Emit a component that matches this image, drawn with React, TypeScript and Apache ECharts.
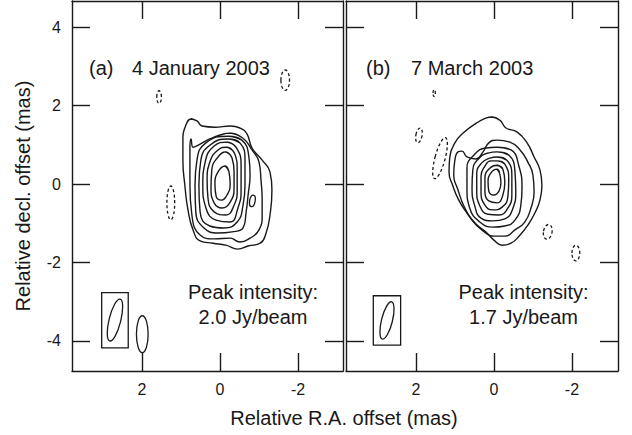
import React, { useEffect, useRef } from 'react';
import * as echarts from 'echarts';

// ---- tick values ----
const xTicks = [-2, 0, 2];
const yTicks = [-4, -2, 0, 2, 4];

// ---- text ----
const panelTags = ['(a)', '(b)'];
const panelDates = ['4 January 2003', '7 March 2003'];
const peakTitle = 'Peak intensity:';
const peakValues = ['2.0 Jy/beam', '1.7 Jy/beam'];
const xName = 'Relative R.A. offset (mas)';
const yName = 'Relative decl. offset (mas)';

// ---- panel (a) contours, [RA offset, Dec offset] in mas ----
const contourA1 = [[0.74,1.66],[0.59,1.61],[0.46,1.48],[0.13,1.45],[-0.26,1.48],[-0.51,1.43],[-0.69,1.28],[-0.82,0.92],[-1.08,0.61],[-1.28,0.31],[-1.33,-0.15],[-1.28,-0.79],[-1.18,-1.25],[-1.03,-1.51],[-0.72,-1.58],[-0.46,-1.66],[-0.15,-1.56],[0.18,-1.51],[0.51,-1.45],[0.69,-1.17],[0.82,-0.66],[0.90,-0.03],[0.95,0.61],[0.95,1.12],[0.87,1.51]];
const contourA2 = [[-0.26,1.30],[-0.59,1.17],[-0.82,0.87],[-1.00,0.56],[-1.05,0.10],[-1.08,-0.41],[-1.08,-0.79],[-1.00,-1.17],[-0.77,-1.38],[-0.51,-1.48],[-0.26,-1.38],[0.15,-1.40],[0.51,-1.30],[0.72,-0.79],[0.77,-0.03],[0.77,0.61],[0.77,0.92],[0.74,1.15],[0.69,0.94],[0.51,1.02],[0.26,1.15],[0,1.25]];
const contourA3 = [[-0.21,1.22],[-0.56,1.12],[-0.74,0.69],[-0.77,0.23],[-0.72,-0.28],[-0.67,-0.71],[-0.59,-1.12],[-0.31,-1.22],[0.05,-1.25],[0.41,-1.12],[0.62,-0.71],[0.64,-0.03],[0.59,0.61],[0.36,1.05]];
const contourA4 = [[-0.21,1.15],[-0.51,1.05],[-0.64,0.61],[-0.64,-0.03],[-0.59,-0.54],[-0.44,-0.97],[-0.10,-1.12],[0.26,-1.07],[0.51,-0.71],[0.54,-0.03],[0.49,0.61],[0.26,0.99]];
const contourA5 = [[-0.18,1.07],[-0.41,0.94],[-0.54,0.48],[-0.54,-0.15],[-0.46,-0.61],[-0.26,-0.97],[0.10,-0.92],[0.36,-0.61],[0.44,-0.03],[0.38,0.56],[0.15,0.97]];
const contourA6 = [[-0.18,0.94],[-0.38,0.77],[-0.44,0.36],[-0.44,-0.15],[-0.36,-0.54],[-0.15,-0.79],[0.15,-0.71],[0.31,-0.33],[0.33,0.10],[0.26,0.56],[0.05,0.87]];
const contourA7 = [[-0.15,0.82],[-0.31,0.66],[-0.36,0.31],[-0.36,-0.10],[-0.26,-0.46],[-0.05,-0.61],[0.15,-0.48],[0.23,-0.10],[0.21,0.36],[0.05,0.69]];
const contourA8 = [[-0.13,0.46],[-0.23,0.31],[-0.26,0],[-0.18,-0.28],[-0.03,-0.41],[0.10,-0.31],[0.13,0],[0.05,0.31]];

// ---- panel (b) contours ----
const contourB1 = [[0.05,1.71],[-0.15,1.63],[-0.31,1.43],[-0.59,1.33],[-0.85,1.05],[-1.03,0.69],[-1.18,0.36],[-1.23,-0.03],[-1.18,-0.41],[-1.05,-0.74],[-0.87,-1.05],[-0.67,-1.30],[-0.44,-1.51],[-0.21,-1.56],[0,-1.43],[0.21,-1.22],[0.46,-1.02],[0.69,-0.74],[0.90,-0.41],[1.05,-0.05],[1.15,0.31],[1.13,0.69],[1.00,1.05],[0.79,1.30],[0.44,1.56],[0.21,1.68]];
const contourB2 = [[-0.08,1.12],[-0.41,1.07],[-0.67,0.87],[-0.87,0.56],[-1.00,0.23],[-1.03,-0.20],[-0.95,-0.61],[-0.79,-0.97],[-0.54,-1.17],[-0.28,-1.33],[0,-1.33],[0.31,-1.17],[0.56,-0.92],[0.77,-0.56],[0.92,-0.15],[1.03,0.23],[1.00,0.61],[0.92,0.82],[0.82,0.84],[0.69,0.69],[0.46,0.64],[0.28,0.82],[0.13,1.05]];
const contourB3 = [[-0.08,0.94],[-0.44,0.87],[-0.64,0.46],[-0.72,-0.10],[-0.69,-0.54],[-0.54,-0.92],[-0.28,-1.07],[0.03,-1.10],[0.36,-0.97],[0.62,-0.61],[0.69,-0.10],[0.69,0.41],[0.51,0.74],[0.21,0.92]];
const contourB4 = [[-0.08,0.82],[-0.38,0.74],[-0.54,0.31],[-0.56,-0.20],[-0.49,-0.61],[-0.28,-0.89],[0.03,-0.94],[0.33,-0.87],[0.49,-0.56],[0.56,-0.10],[0.54,0.36],[0.38,0.66],[0.15,0.79]];
const contourB5 = [[-0.08,0.69],[-0.33,0.61],[-0.46,0.20],[-0.46,-0.28],[-0.36,-0.61],[-0.13,-0.79],[0.15,-0.77],[0.36,-0.56],[0.44,-0.15],[0.44,0.26],[0.31,0.54],[0.10,0.66]];
const contourB6 = [[-0.08,0.59],[-0.28,0.51],[-0.38,0.10],[-0.36,-0.31],[-0.21,-0.59],[0.03,-0.66],[0.23,-0.54],[0.33,-0.20],[0.33,0.20],[0.23,0.46],[0.08,0.59]];
const contourB7 = [[-0.08,0.48],[-0.23,0.38],[-0.28,0.05],[-0.23,-0.28],[-0.08,-0.48],[0.13,-0.43],[0.23,-0.20],[0.23,0.15],[0.10,0.41]];
const contourB8 = [[-0.08,0.38],[-0.15,0.26],[-0.18,0.03],[-0.13,-0.18],[0,-0.28],[0.13,-0.18],[0.15,0.05],[0.08,0.28]];

// ---- small closed contours: [x, y, semi-axis x, semi-axis y, tilt deg (clockwise)] ----
const solidBlobsA = [[-0.83,-0.43,0.07,0.15,10],[1.99,-3.83,0.15,0.47,0]];
const dashedA = [[1.56,2.22,0.06,0.16,0],[-1.67,2.65,0.11,0.26,0],[1.26,-0.48,0.10,0.43,0]];
const dashedB = [[1.92,1.24,0.08,0.19,10],[1.38,0.66,0.13,0.54,15],[1.53,2.32,0.03,0.09,0],[-1.38,-1.22,0.11,0.19,10],[-2.10,-1.76,0.10,0.20,0]];

// ---- restoring beams and their boxes ----
const beamA = [[2.69,-3.47,0.15,0.55,14]];
const beamB = [[2.74,-3.48,0.14,0.49,14]];
const beamBoxA = [[3.03,-2.77,2.35,-4.18]];
const beamBoxB = [[3.09,-2.85,2.39,-4.11]];

const contoursA = [contourA1, contourA2, contourA3, contourA4, contourA5, contourA6, contourA7, contourA8];
const contoursB = [contourB1, contourB2, contourB3, contourB4, contourB5, contourB6, contourB7, contourB8];

const INK = '#1a1819';
const FONT = '"Liberation Sans", Arial, Helvetica, sans-serif';

export default function App() {
  const ref = useRef<HTMLDivElement>(null);
  useEffect(() => {
    if (!ref.current) return;
    const chart = echarts.init(ref.current, null, { renderer: 'svg' });

    const grids = [
      { left: 72, top: 1, width: 271, height: 370, xmin: -3.15, xmax: 3.79 },
      { left: 346, top: 1, width: 272, height: 370, xmin: -3.18, xmax: 3.79 },
    ];
    const ymin = -4.77, ymax = 4.67;

    const tick = (vals: number[]) => ({
      show: true, inside: true, length: 18, customValues: vals,
      lineStyle: { color: INK, width: 1.4 },
    });
    const axLine = { show: true, onZero: false, lineStyle: { color: INK, width: 1.4 } };

    const xAxis: any[] = [];
    const yAxis: any[] = [];
    grids.forEach((g, i) => {
      ['bottom', 'top'].forEach((pos) => {
        xAxis.push({
          type: 'value', gridIndex: i, position: pos, min: g.xmin, max: g.xmax, inverse: true,
          axisLine: axLine, axisTick: tick(xTicks), splitLine: { show: false },
          axisLabel: pos === 'bottom'
            ? { show: true, customValues: xTicks, fontSize: 16, color: INK, fontFamily: FONT, margin: 10 }
            : { show: false },
        });
      });
      ['left', 'right'].forEach((pos) => {
        yAxis.push({
          type: 'value', gridIndex: i, position: pos, min: ymin, max: ymax,
          axisLine: axLine, axisTick: tick(yTicks), splitLine: { show: false },
          axisLabel: pos === 'left' && i === 0
            ? { show: true, customValues: yTicks, fontSize: 16, color: INK, fontFamily: FONT, margin: 11 }
            : { show: false },
        });
      });
    });

    const series: any[] = [];
    const lineSeries = (pts: number[][], gi: number) => ({
      type: 'line', xAxisIndex: gi * 2, yAxisIndex: gi * 2,
      data: [...pts, pts[0], pts[1]], smooth: 0.5, symbol: 'none', showSymbol: false,
      lineStyle: { color: INK, width: 1.4 }, silent: true, z: 3,
    });
    contoursA.forEach((c) => series.push(lineSeries(c, 0)));
    contoursB.forEach((c) => series.push(lineSeries(c, 1)));

    const ellipseSeries = (rows: number[][], gi: number, dashed: boolean) => ({
      type: 'custom', xAxisIndex: gi * 2, yAxisIndex: gi * 2, data: rows, encode: { x: 0, y: 1 },
      silent: true, z: 3,
      renderItem: (_p: any, api: any) => {
        const c = api.coord([api.value(0), api.value(1)]);
        const s = api.size([api.value(2), api.value(3)]);
        return {
          type: 'ellipse', x: c[0], y: c[1], rotation: -api.value(4) * Math.PI / 180,
          shape: { cx: 0, cy: 0, rx: Math.abs(s[0]), ry: Math.abs(s[1]) },
          style: { fill: 'none', stroke: INK, lineWidth: 1.3, lineDash: dashed ? [3, 2.5] : null },
        };
      },
    });
    const boxSeries = (rows: number[][], gi: number) => ({
      type: 'custom', xAxisIndex: gi * 2, yAxisIndex: gi * 2, data: rows, encode: { x: [0, 2], y: [1, 3] },
      silent: true, z: 3,
      renderItem: (_p: any, api: any) => {
        const a = api.coord([api.value(0), api.value(1)]);
        const b = api.coord([api.value(2), api.value(3)]);
        return {
          type: 'rect',
          shape: { x: Math.min(a[0], b[0]), y: Math.min(a[1], b[1]), width: Math.abs(a[0] - b[0]), height: Math.abs(a[1] - b[1]) },
          style: { fill: 'none', stroke: INK, lineWidth: 1.3 },
        };
      },
    });
    series.push(ellipseSeries(solidBlobsA, 0, false));
    series.push(ellipseSeries(dashedA, 0, true));
    series.push(ellipseSeries(dashedB, 1, true));
    series.push(ellipseSeries(beamA, 0, false));
    series.push(ellipseSeries(beamB, 1, false));
    series.push(boxSeries(beamBoxA, 0));
    series.push(boxSeries(beamBoxB, 1));

    const txt = (text: string, x: number, y: number, align: string, extra: any = {}) => ({
      type: 'text', x, y, ...extra,
      style: { text, fill: INK, font: `20px ${FONT}`, align, verticalAlign: 'middle' },
    });

    const graphic = [
      txt(panelTags[0], 89, 68, 'left'),
      txt(panelDates[0], 132, 68, 'left'),
      txt(panelTags[1], 366, 68, 'left'),
      txt(panelDates[1], 411, 68, 'left'),
      txt(peakTitle, 253, 292, 'center'),
      txt(peakValues[0], 253, 317, 'center'),
      txt(peakTitle, 523.5, 292, 'center'),
      txt(peakValues[1], 523.5, 317, 'center'),
      txt(xName, 344, 418, 'center'),
      txt(yName, 23, 196, 'center', { rotation: Math.PI / 2 }),
    ];

    chart.setOption({
      animation: false,
      backgroundColor: '#ffffff',
      grid: grids.map((g) => ({ left: g.left, top: g.top, width: g.width, height: g.height, containLabel: false })),
      xAxis, yAxis, series, graphic,
    });
    return () => chart.dispose();
  }, []);
  return <div ref={ref} style={{ position: 'absolute', left: 0, top: 0, width: 632, height: 435 }} />;
}
